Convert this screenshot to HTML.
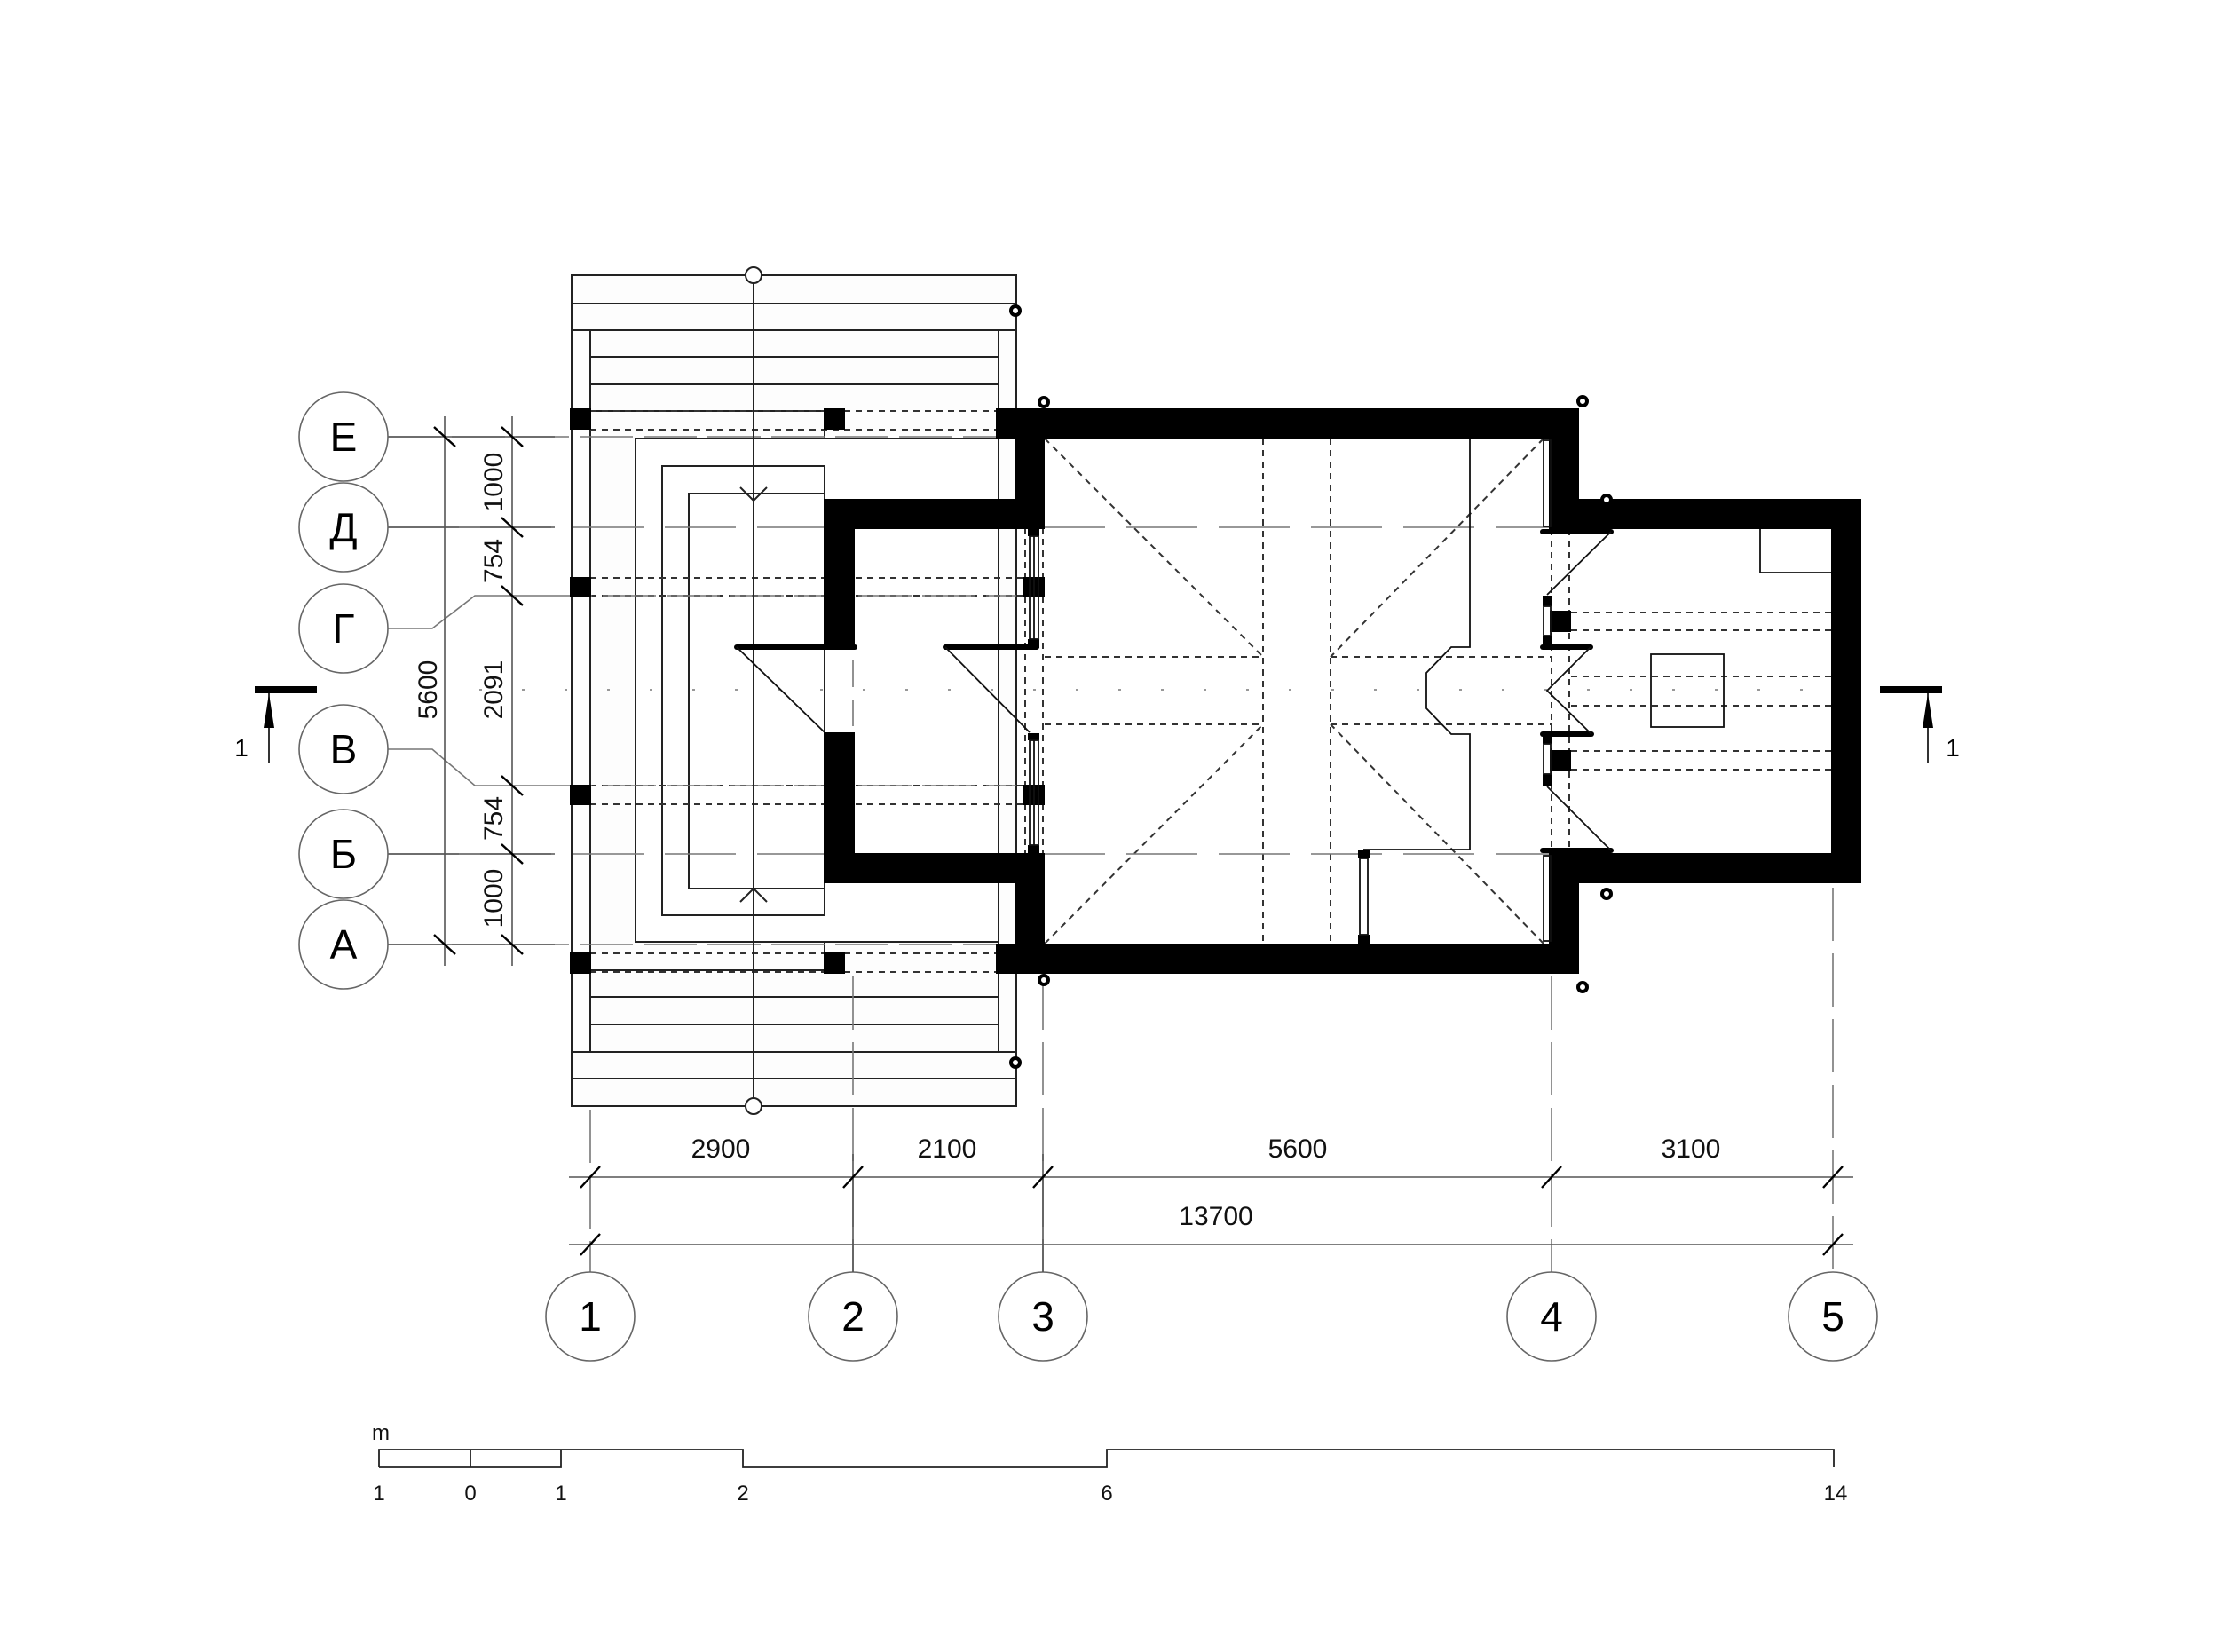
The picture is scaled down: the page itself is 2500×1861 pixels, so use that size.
<!DOCTYPE html>
<html><head><meta charset="utf-8"><style>html,body{margin:0;padding:0;background:#fff}svg{display:block}</style></head>
<body>
<svg width="2500" height="1861" viewBox="0 0 2500 1861" xmlns="http://www.w3.org/2000/svg" font-family="Liberation Sans, DejaVu Sans, sans-serif">
<rect width="2500" height="1861" fill="#fff"/>
<!-- Porch -->
<g stroke="#222" stroke-width="2" fill="none">
<rect x="644" y="310" width="501" height="936" fill="#fdfdfd"/>
<line x1="644" y1="342" x2="1145" y2="342"/>
<line x1="644" y1="372" x2="1145" y2="372"/>
<line x1="665" y1="402" x2="1125" y2="402"/>
<line x1="665" y1="433" x2="1125" y2="433"/>
<line x1="665" y1="372" x2="665" y2="1185"/>
<line x1="1125" y1="372" x2="1125" y2="1185"/>
<line x1="665" y1="1123" x2="1125" y2="1123"/>
<line x1="665" y1="1154" x2="1125" y2="1154"/>
<line x1="644" y1="1185" x2="1145" y2="1185"/>
<line x1="644" y1="1215" x2="1145" y2="1215"/>
<line x1="665" y1="463" x2="929" y2="463"/>
<line x1="665" y1="1093" x2="929" y2="1093"/>
<rect x="716" y="494" width="409" height="567" fill="#fff"/>
<polyline points="929,483 929,494"/>
<polyline points="929,1061 929,1073"/>
<rect x="746" y="525" width="183" height="506" fill="#fff"/>
<rect x="776" y="556" width="153" height="445" fill="#fff"/>
</g>
<!-- dashed beams -->
<g stroke="#333" stroke-width="2" stroke-dasharray="7,6" fill="none">
<line x1="665" y1="463" x2="1130" y2="463"/><line x1="665" y1="484" x2="1130" y2="484"/>
<line x1="665" y1="1074" x2="1130" y2="1074"/><line x1="665" y1="1095" x2="1130" y2="1095"/>
<line x1="665" y1="651" x2="1160" y2="651"/><line x1="665" y1="671" x2="1160" y2="671"/>
<line x1="665" y1="885" x2="1160" y2="885"/><line x1="665" y1="906" x2="1160" y2="906"/>
<line x1="1423" y1="494" x2="1423" y2="1063"/><line x1="1499" y1="494" x2="1499" y2="1063"/>
<line x1="1177" y1="740" x2="1423" y2="740"/><line x1="1499" y1="740" x2="1748" y2="740"/>
<line x1="1177" y1="816" x2="1423" y2="816"/><line x1="1499" y1="816" x2="1748" y2="816"/>
<line x1="1177" y1="494" x2="1423" y2="740"/><line x1="1739" y1="494" x2="1499" y2="740"/>
<line x1="1177" y1="1063" x2="1423" y2="816"/><line x1="1739" y1="1063" x2="1499" y2="816"/>
<line x1="1155" y1="594" x2="1155" y2="962"/><line x1="1175" y1="594" x2="1175" y2="962"/>
<line x1="1748" y1="596" x2="1748" y2="960"/><line x1="1768" y1="596" x2="1768" y2="960"/>
<line x1="1770" y1="690" x2="2063" y2="690"/><line x1="1770" y1="710" x2="2063" y2="710"/>
<line x1="1770" y1="762" x2="2063" y2="762"/><line x1="1770" y1="795" x2="2063" y2="795"/>
<line x1="1770" y1="846" x2="2063" y2="846"/><line x1="1770" y1="867" x2="2063" y2="867"/>
</g>
<!-- axes dash-dot -->
<g stroke="#777" stroke-width="1.6" fill="none">
<line x1="437" y1="492" x2="1140" y2="492" stroke-dasharray="60,12"/>
<line x1="437" y1="594" x2="1779" y2="594" stroke-dasharray="80,24"/>
<line x1="437" y1="962" x2="1779" y2="962" stroke-dasharray="80,24"/>
<line x1="437" y1="1064" x2="1140" y2="1064" stroke-dasharray="60,12"/>
<polyline points="437,708 487,708 535,671 607,671"/>
<polyline points="437,844 487,844 535,885 607,885"/>
<line x1="607" y1="671" x2="1145" y2="671" stroke-dasharray="60,12"/>
<line x1="607" y1="885" x2="1145" y2="885" stroke-dasharray="60,12"/>
<line x1="540" y1="777" x2="2110" y2="777" stroke-dasharray="3,45"/>
<line x1="665" y1="1250" x2="665" y2="1433" stroke-dasharray="60,14"/>
<line x1="961" y1="1100" x2="961" y2="1433" stroke-dasharray="60,14"/>
<line x1="961" y1="700" x2="961" y2="850" stroke-dasharray="30,14"/>
<line x1="1175" y1="1100" x2="1175" y2="1433" stroke-dasharray="60,14"/>
<line x1="1748" y1="1100" x2="1748" y2="1433" stroke-dasharray="60,14"/>
<line x1="2065" y1="1000" x2="2065" y2="1433" stroke-dasharray="60,14"/>
</g>
<!-- section line -->
<g stroke="#222" stroke-width="2" fill="none">
<line x1="849" y1="318" x2="849" y2="1238"/>
<circle cx="849" cy="310" r="9" fill="#fff"/><circle cx="849" cy="1246" r="9" fill="#fff"/>
<polyline points="834,549 849,564 864,549"/><polyline points="834,1016 849,1001 864,1016"/>
</g>
<!-- walls -->
<g fill="#000">
<rect x="642" y="460" width="24" height="24"/><rect x="642" y="650" width="24" height="23"/>
<rect x="642" y="884" width="24" height="23"/><rect x="642" y="1073" width="24" height="24"/>
<rect x="928" y="460" width="24" height="24"/><rect x="928" y="1073" width="24" height="24"/>
<rect x="1122" y="460" width="657" height="34"/>
<rect x="1122" y="1063" width="657" height="34"/>
<rect x="1143" y="460" width="34" height="136"/>
<rect x="1143" y="961" width="34" height="136"/>
<rect x="928" y="562" width="249" height="34"/>
<rect x="928" y="961" width="249" height="34"/>
<rect x="928" y="562" width="35" height="168"/>
<rect x="928" y="825" width="35" height="170"/>
<rect x="1745" y="460" width="34" height="136"/>
<rect x="1745" y="961" width="34" height="136"/>
<rect x="1745" y="562" width="352" height="34"/>
<rect x="1745" y="961" width="352" height="34"/>
<rect x="2063" y="562" width="34" height="433"/>
<rect x="1153" y="650" width="24" height="23"/><rect x="1153" y="884" width="24" height="23"/>
<rect x="1746" y="688" width="24" height="24"/><rect x="1746" y="845" width="24" height="24"/>
<rect x="1738" y="671" width="10" height="12"/><rect x="1738" y="716" width="10" height="14"/>
<rect x="1738" y="826" width="10" height="12"/><rect x="1738" y="872" width="10" height="14"/>
<rect x="1158" y="596" width="13" height="8"/><rect x="1158" y="720" width="13" height="10"/>
<rect x="1158" y="826" width="13" height="8"/><rect x="1158" y="952" width="13" height="10"/>
<rect x="1530" y="957" width="13" height="10"/><rect x="1530" y="1053" width="13" height="10"/>
</g>
<g stroke="#000" stroke-width="6" stroke-linecap="round">
<line x1="830" y1="729" x2="963" y2="729"/><line x1="1065" y1="729" x2="1168" y2="729"/>
<line x1="1738" y1="599" x2="1815" y2="599"/><line x1="1738" y1="729" x2="1792" y2="729"/>
<line x1="1738" y1="827" x2="1793" y2="827"/><line x1="1738" y1="958" x2="1815" y2="958"/>
</g>
<g stroke="#111" stroke-width="1.8" fill="none">
<line x1="830" y1="729" x2="929" y2="825"/><line x1="1065" y1="729" x2="1160" y2="825"/>
<line x1="1815" y1="599" x2="1743" y2="670"/><polyline points="1792,729 1743,778 1793,827"/>
<line x1="1743" y1="886" x2="1815" y2="958"/>
<rect x="1160" y="604" width="10" height="116"/><rect x="1160" y="834" width="10" height="118"/>
<line x1="1165" y1="604" x2="1165" y2="720"/><line x1="1165" y1="834" x2="1165" y2="952"/>
<rect x="1739" y="496" width="8" height="97"/><rect x="1739" y="964" width="8" height="96"/>
<rect x="1739" y="683" width="8" height="33"/><rect x="1739" y="838" width="8" height="34"/>
<rect x="1532" y="967" width="9" height="86"/>
<polyline points="1656,494 1656,729 1635,729 1607,758 1607,798 1635,827 1656,827 1656,957 1536,957"/>
<polyline points="1983,596 1983,645 2063,645"/>
<rect x="1860" y="737" width="82" height="82"/>
</g>
<g stroke="#000" stroke-width="4" fill="#fff">
<circle cx="1176" cy="453" r="5"/><circle cx="1783" cy="452" r="5"/><circle cx="1810" cy="563" r="5"/>
<circle cx="1810" cy="1007" r="5"/><circle cx="1783" cy="1112" r="5"/><circle cx="1176" cy="1104" r="5"/>
<circle cx="1144" cy="350" r="5"/><circle cx="1144" cy="1197" r="5"/>
</g>
<g stroke="#555" stroke-width="1.6">
<line x1="501" y1="469" x2="501" y2="1088"/><line x1="577" y1="469" x2="577" y2="1088"/>
<line x1="437" y1="492" x2="625" y2="492"/><line x1="437" y1="1064" x2="625" y2="1064"/>
<line x1="437" y1="594" x2="625" y2="594"/><line x1="437" y1="962" x2="625" y2="962"/>
</g>
<g stroke="#000" stroke-width="2.4">
<line x1="489" y1="481" x2="513" y2="503"/><line x1="489" y1="1053" x2="513" y2="1075"/>
<line x1="565" y1="481" x2="589" y2="503"/><line x1="565" y1="583" x2="589" y2="605"/>
<line x1="565" y1="660" x2="589" y2="682"/><line x1="565" y1="874" x2="589" y2="896"/>
<line x1="565" y1="951" x2="589" y2="973"/><line x1="565" y1="1053" x2="589" y2="1075"/>
</g>
<g font-size="30" fill="#111" text-anchor="middle">
<text transform="translate(482,777) rotate(-90)" dy="10">5600</text>
<text transform="translate(556,543) rotate(-90)" dy="10">1000</text>
<text transform="translate(556,632) rotate(-90)" dy="10">754</text>
<text transform="translate(556,777) rotate(-90)" dy="10">2091</text>
<text transform="translate(556,922) rotate(-90)" dy="10">754</text>
<text transform="translate(556,1012) rotate(-90)" dy="10">1000</text>
</g>
<g stroke="#666" stroke-width="1.6" fill="#fff">
<circle cx="387" cy="492" r="50"/><circle cx="387" cy="594" r="50"/><circle cx="387" cy="708" r="50"/>
<circle cx="387" cy="844" r="50"/><circle cx="387" cy="962" r="50"/><circle cx="387" cy="1064" r="50"/>
<circle cx="665" cy="1483" r="50"/><circle cx="961" cy="1483" r="50"/><circle cx="1175" cy="1483" r="50"/>
<circle cx="1748" cy="1483" r="50"/><circle cx="2065" cy="1483" r="50"/>
</g>
<g font-size="46" fill="#000" text-anchor="middle">
<text x="387" y="508">Е</text><text x="387" y="610">Д</text><text x="387" y="724">Г</text>
<text x="387" y="860">В</text><text x="387" y="978">Б</text><text x="387" y="1080">А</text>
<text x="665" y="1499">1</text><text x="961" y="1499">2</text><text x="1175" y="1499">3</text>
<text x="1748" y="1499">4</text><text x="2065" y="1499">5</text>
</g>
<g stroke="#555" stroke-width="1.6">
<line x1="641" y1="1326" x2="2088" y2="1326"/><line x1="641" y1="1402" x2="2088" y2="1402"/>
<line x1="961" y1="1300" x2="961" y2="1433"/><line x1="1175" y1="1300" x2="1175" y2="1433"/>
</g>
<g stroke="#000" stroke-width="2.4">
<line x1="654" y1="1338" x2="676" y2="1314"/><line x1="950" y1="1338" x2="972" y2="1314"/>
<line x1="1164" y1="1338" x2="1186" y2="1314"/><line x1="1737" y1="1338" x2="1759" y2="1314"/>
<line x1="2054" y1="1338" x2="2076" y2="1314"/>
<line x1="654" y1="1414" x2="676" y2="1390"/><line x1="2054" y1="1414" x2="2076" y2="1390"/>
</g>
<g font-size="30" fill="#111" text-anchor="middle">
<text x="812" y="1304">2900</text><text x="1067" y="1304">2100</text>
<text x="1462" y="1304">5600</text><text x="1905" y="1304">3100</text>
<text x="1370" y="1380">13700</text>
</g>
<rect x="287" y="773" width="70" height="8" fill="#000"/>
<line x1="303" y1="781" x2="303" y2="859" stroke="#000" stroke-width="1.6"/>
<polygon points="303,781 297,820 309,820" fill="#000"/>
<text x="272" y="852" font-size="28" text-anchor="middle">1</text>
<rect x="2118" y="773" width="70" height="8" fill="#000"/>
<line x1="2172" y1="781" x2="2172" y2="859" stroke="#000" stroke-width="1.6"/>
<polygon points="2172,781 2166,820 2178,820" fill="#000"/>
<text x="2200" y="852" font-size="28" text-anchor="middle">1</text>
<g stroke="#222" stroke-width="1.8" fill="none">
<polyline points="427,1653 427,1633 837,1633 837,1653 1247,1653 1247,1633 2066,1633 2066,1653"/>
<polyline points="427,1653 632,1653 632,1633"/>
<line x1="530" y1="1633" x2="530" y2="1653"/>
</g>
<g font-size="24" fill="#111" text-anchor="middle">
<text x="429" y="1622">m</text>
<text x="427" y="1690">1</text><text x="530" y="1690">0</text><text x="632" y="1690">1</text>
<text x="837" y="1690">2</text><text x="1247" y="1690">6</text><text x="2068" y="1690">14</text>
</g>
</svg>
</body></html>
